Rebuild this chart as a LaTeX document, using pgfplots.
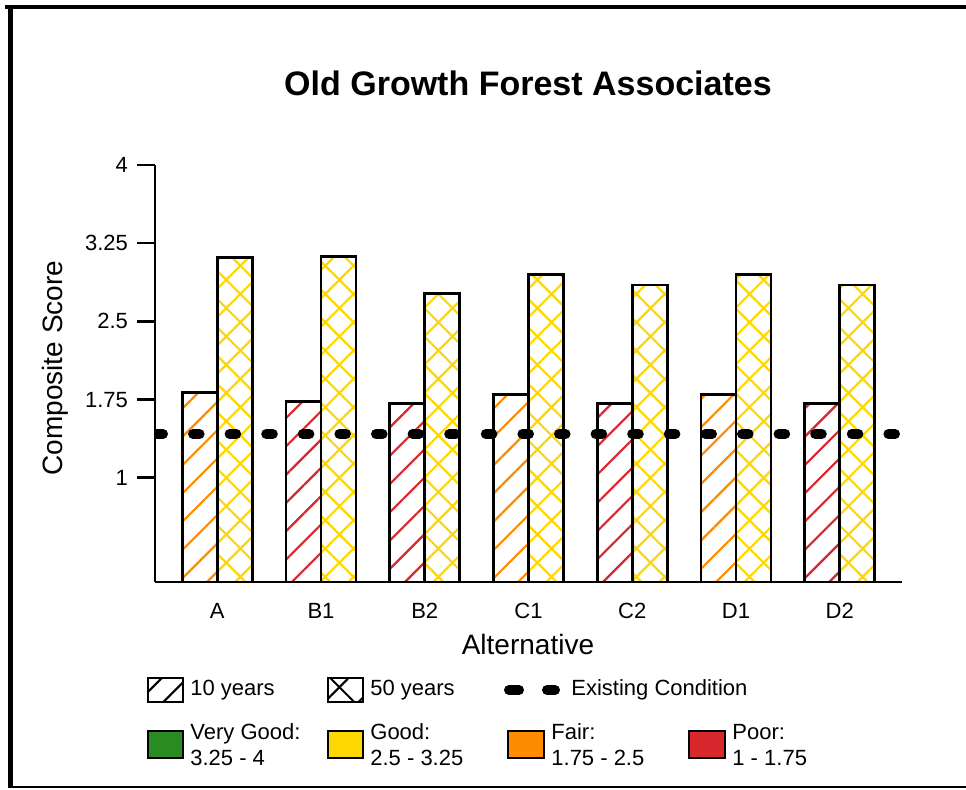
\documentclass[border=0pt]{standalone}
\usepackage{fontspec}
\setmainfont{Liberation Sans}
\usepackage{pgfplots}
\pgfplotsset{compat=1.18}
\usetikzlibrary{patterns.meta}
\definecolor{vgood}{RGB}{40,140,35}
\definecolor{good}{RGB}{255,215,0}
\definecolor{fair}{RGB}{255,140,0}
\definecolor{poor}{RGB}{214,40,45}
\begin{document}
\begin{tikzpicture}
\path[use as bounding box] (0,0) rectangle (483pt,394.5pt);
% frame
\draw[line width=2pt] (2.5pt,391pt) -- (483pt,391pt);
\draw[line width=2.5pt] (5.25pt,0.5pt) -- (5.25pt,392pt);
\draw[line width=1pt] (4pt,1pt) -- (483pt,1pt);

\begin{axis}[
    at={(77.5pt,103.5pt)}, anchor=south west,
    scale only axis,
    width=373.5pt, height=208.5pt,
    xmin=-0.6, xmax=6.6,
    ymin=0, ymax=4,
    ybar, bar width=17.5pt,
    axis lines*=left,
    axis line style={-},
    x axis line style={line width=0.7pt},
    y axis line style={line width=1.3pt},
    xtick={0,...,6},
    xticklabels={A,B1,B2,C1,C2,D1,D2},
    xtick style={draw=none},
    ytick={1,1.75,2.5,3.25,4},
    yticklabels={1,1.75,2.5,3.25,4},
    ytick style={line width=1.3pt, black},
    major tick length=9pt,
    tick align=outside,
    /pgf/number format/assume math mode=true,
    ticklabel style={font=\fontsize{11}{13}\selectfont},
    xticklabel style={yshift=2pt},
    yticklabel style={xshift=-1pt},
    title={\textbf{Old Growth Forest Associates}},
    title style={at={(axis description cs:0.4993,1.168)}, anchor=center, font=\fontsize{17}{20}\selectfont},
    ylabel={Composite Score},
    ylabel style={at={(axis description cs:-0.134,0.513)}, anchor=center, font=\fontsize{14}{16}\selectfont},
    xlabel={Alternative},
    xlabel style={at={(axis description cs:0.4993,-0.151)}, anchor=center, font=\fontsize{14}{16}\selectfont},
]
% 10 years, Fair
\addplot[draw=black, line width=1.3pt, bar shift=-8.75pt,
    pattern={Lines[angle=45, distance=10pt, line width=1.1pt]}, pattern color=fair]
    coordinates {(0,1.82) (3,1.80) (5,1.80)};
% 10 years, Poor
\addplot[draw=black, line width=1.3pt, bar shift=-8.75pt,
    pattern={Lines[angle=45, distance=10pt, line width=1.1pt]}, pattern color=poor]
    coordinates {(1,1.73) (2,1.71) (4,1.71) (6,1.71)};
% 50 years, Good
\addplot[draw=black, line width=1.3pt, bar shift=8.75pt,
    pattern={Hatch[angle=45, distance=10pt, line width=1.1pt]}, pattern color=good]
    coordinates {(0,3.11) (1,3.12) (2,2.77) (3,2.95) (4,2.85) (5,2.95) (6,2.85)};
% existing condition
\addplot[sharp plot, black, line width=5pt, line cap=round,
    dash pattern=on 3.3pt off 15pt, dash phase=17.6pt]
    coordinates {(-0.6,1.42) (6.6,1.42)};
\end{axis}

% legend, row 1
\begin{scope}[font=\fontsize{11}{13}\selectfont]
\draw[line width=1.3pt, pattern={Lines[angle=45, distance=9pt, line width=1pt]}, pattern color=black]
    (74pt,43.5pt) rectangle (91.5pt,55.5pt);
\node[anchor=west, inner sep=0pt] at (95pt,49.5pt) {10 years};
\draw[line width=1.3pt, pattern={Hatch[angle=45, distance=12pt, line width=1pt]}, pattern color=black]
    (164pt,43.5pt) rectangle (181.5pt,55.5pt);
\node[anchor=west, inner sep=0pt] at (185pt,49.5pt) {50 years};
\draw[line width=5pt, line cap=round] (254.5pt,49.5pt) -- (259.5pt,49.5pt);
\draw[line width=5pt, line cap=round] (273.5pt,49.5pt) -- (277.5pt,49.5pt);
\node[anchor=west, inner sep=0pt] at (285.5pt,49.5pt) {Existing Condition};
% row 2
\draw[line width=1.3pt, fill=vgood] (74pt,15.5pt) rectangle (91.5pt,29pt);
\node[anchor=west, inner sep=0pt, align=left] at (95pt,22pt) {Very Good:\\3.25 - 4};
\draw[line width=1.3pt, fill=good] (164pt,15.5pt) rectangle (181.5pt,29pt);
\node[anchor=west, inner sep=0pt, align=left] at (185pt,22pt) {Good:\\2.5 - 3.25};
\draw[line width=1.3pt, fill=fair] (254pt,15.5pt) rectangle (272pt,29pt);
\node[anchor=west, inner sep=0pt, align=left] at (275.5pt,22pt) {Fair:\\1.75 - 2.5};
\draw[line width=1.3pt, fill=poor] (344.5pt,15.5pt) rectangle (362.5pt,29pt);
\node[anchor=west, inner sep=0pt, align=left] at (366pt,22pt) {Poor:\\1 - 1.75};
\end{scope}
\end{tikzpicture}
\end{document}
